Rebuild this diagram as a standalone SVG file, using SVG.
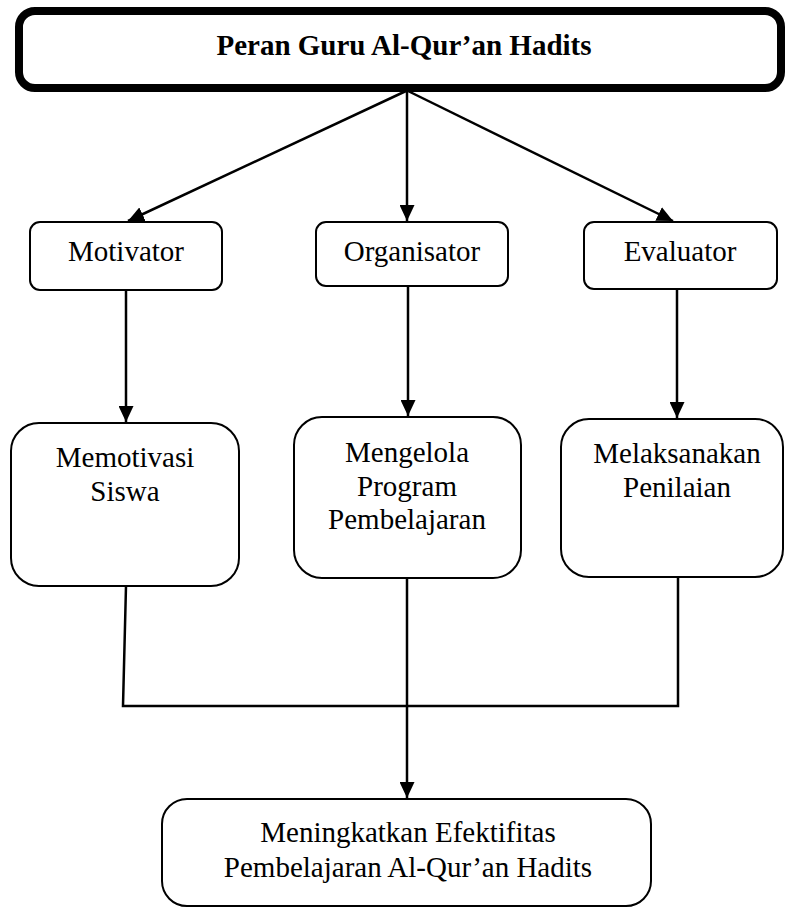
<svg xmlns="http://www.w3.org/2000/svg" width="785" height="908" viewBox="0 0 785 908">
<style>
.box{fill:#fff;stroke:#000;stroke-width:2}
.t{font-family:"Liberation Serif","Times New Roman",serif;font-size:29px;fill:#000;text-anchor:middle}
.b{font-weight:bold}
.c{fill:none;stroke:#000;stroke-width:2.5}
</style>
<defs>
<marker id="ah" markerUnits="userSpaceOnUse" markerWidth="17" markerHeight="15" refX="16" refY="7.5" orient="auto">
<path d="M0,0 L16,7.5 L0,15 z" fill="#000"/>
</marker>
</defs>
<rect width="785" height="908" fill="#fff"/>
<g id="connectors">
<path class="c" d="M406,91 L128,221" marker-end="url(#ah)"/>
<path class="c" d="M407,91 L407,221" marker-end="url(#ah)"/>
<path class="c" d="M408,91 L673,221" marker-end="url(#ah)"/>
<path class="c" d="M126,290 L126,422" marker-end="url(#ah)"/>
<path class="c" d="M408,286 L408,416" marker-end="url(#ah)"/>
<path class="c" d="M677,289 L677,418" marker-end="url(#ah)"/>
<path class="c" d="M126,586 L123,706 L678,706 L678,577"/>
<path class="c" d="M407,578 L407,798" marker-end="url(#ah)"/>
</g>
<g id="peran">
<rect x="19" y="11" width="762" height="77" rx="16" fill="#fff" stroke="#000" stroke-width="8"/>
<text class="t b" x="404" y="55">Peran Guru Al-Qur’an Hadits</text>
</g>
<g id="motivator">
<rect class="box" x="30" y="222" width="192" height="68" rx="10"/>
<text class="t" x="126" y="261">Motivator</text>
</g>
<g id="organisator">
<rect class="box" x="316" y="222" width="192" height="64" rx="10"/>
<text class="t" x="412" y="261">Organisator</text>
</g>
<g id="evaluator">
<rect class="box" x="584" y="222" width="193" height="67" rx="10"/>
<text class="t" x="680" y="261">Evaluator</text>
</g>
<g id="memotivasi">
<rect class="box" x="11" y="423" width="228" height="163" rx="28"/>
<text class="t" x="125" y="467">Memotivasi</text>
<text class="t" x="125" y="501">Siswa</text>
</g>
<g id="mengelola">
<rect class="box" x="294" y="417" width="227" height="161" rx="28"/>
<text class="t" x="407" y="462">Mengelola</text>
<text class="t" x="407" y="496">Program</text>
<text class="t" x="407" y="529">Pembelajaran</text>
</g>
<g id="melaksanakan">
<rect class="box" x="561" y="419" width="222" height="158" rx="28"/>
<text class="t" x="677" y="463">Melaksanakan</text>
<text class="t" x="677" y="497">Penilaian</text>
</g>
<g id="meningkatkan">
<rect class="box" x="162" y="799" width="489" height="107" rx="25"/>
<text class="t" x="408" y="842">Meningkatkan Efektifitas</text>
<text class="t" x="408" y="877">Pembelajaran Al-Qur’an Hadits</text>
</g>
</svg>
